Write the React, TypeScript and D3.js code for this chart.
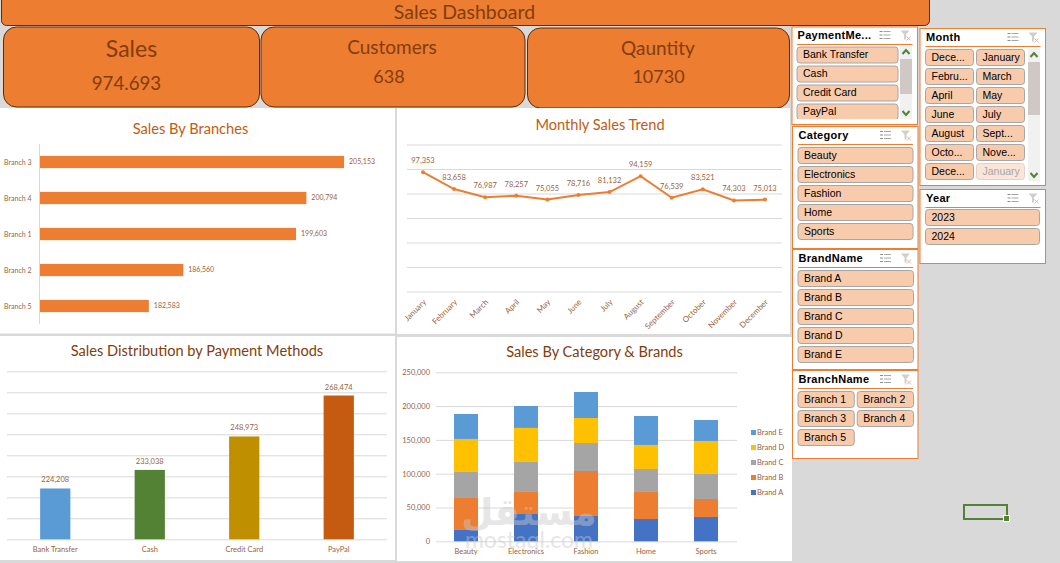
import * as d3 from "d3";
import React, { useEffect, useRef } from "react";

const branches = ["Branch 3", "Branch 4", "Branch 1", "Branch 2", "Branch 5"];
const branchSales = [205153, 200794, 199603, 186560, 182583];

const months = ["January", "February", "March", "April", "May", "June", "July", "August", "September", "October", "November", "December"];
const monthSales = [97353, 83658, 76987, 78257, 75055, 78716, 81132, 94159, 76539, 83521, 74303, 75013];

const payments = ["Bank Transfer", "Cash", "Credit Card", "PayPal"];
const paymentSales = [224208, 233038, 248973, 268474];
const paymentColors = ["#5B9BD5", "#548235", "#BF8F00", "#C55A11"];

const categories = ["Beauty", "Electronics", "Fashion", "Home", "Sports"];
const brands = ["Brand A", "Brand B", "Brand C", "Brand D", "Brand E"];
const brandColors = ["#4472C4", "#ED7D31", "#A5A5A5", "#FFC000", "#5B9BD5"];
const brandA = [16800, 40400, 37500, 33000, 36000];
const brandB = [47300, 32600, 66500, 40000, 26600];
const brandC = [38500, 44400, 41400, 34000, 37000];
const brandD = [48800, 50300, 37000, 35500, 48800];
const brandE = [37000, 32500, 38500, 42900, 31100];

const kpiLabels = ["Sales", "Customers", "Qauntity"];
const kpiValues = ["974.693", "638", "10730"];

const paymentItems = ["Bank Transfer", "Cash", "Credit Card", "PayPal"];
const monthItems = ["Dece...", "January", "Febru...", "March", "April", "May", "June", "July", "August", "Sept...", "Octo...", "Nove...", "Dece...", "January"];
const yearItems = ["2023", "2024"];
const branchItems = ["Branch 1", "Branch 2", "Branch 3", "Branch 4", "Branch 5"];

const FONT = "Lato, 'Open Sans', sans-serif";
const SLICER_FONT = "'Liberation Sans', Arial, sans-serif";
const ORANGE = "#ED7D31";
const BROWN = "#843C0C";
const LABEL = "#9A5F3C";
const GRID = "#D9D9D9";
const fmt = d3.format(",");

type Sel = d3.Selection<any, any, any, any>;

const panel = (svg: Sel, x: number, y: number, w: number, h: number) =>
  svg.append("rect").attr("x", x).attr("y", y).attr("width", w).attr("height", h).attr("fill", "#fff");

const title = (svg: Sel, text: string, x: number, y: number, color: string) =>
  svg.append("text").attr("x", x).attr("y", y).attr("text-anchor", "middle")
    .attr("font-size", 14.6).attr("fill", color).text(text);

const cleanAxis = (g: Sel) => {
  g.select(".domain").remove();
  g.selectAll(".tick text").attr("fill", LABEL).attr("font-family", FONT);
};

const grid = (g: Sel, y: d3.ScaleLinear<number, number>, x0: number, x1: number, step: number) => {
  const ticks = d3.range(y.domain()[0], y.domain()[1] + 1, step);
  g.append("g").attr("transform", `translate(${x0},0)`)
    .call(d3.axisRight(y).tickValues(ticks).tickSize(x1 - x0).tickFormat(() => ""))
    .call((a: Sel) => {
      a.select(".domain").remove();
      a.selectAll("line").attr("stroke", GRID);
    });
};

const drawHeader = (svg: Sel) => {
  svg.append("rect").attr("x", 1.5).attr("y", -5).attr("width", 928).attr("height", 30.5).attr("rx", 5)
    .attr("fill", ORANGE).attr("stroke", "#5E2C0A");
  svg.append("text").attr("x", 464.5).attr("y", 19).attr("text-anchor", "middle")
    .attr("font-size", 19.5).attr("fill", BROWN).text("Sales Dashboard");

  const boxes = [[3.5, 256], [261, 264], [527.5, 262]];
  const labelPos = [[131.5, 57, 23], [392, 54, 19], [658, 55, 19]];
  const valuePos = [[126.5, 90, 18.7], [389, 83, 18], [658.5, 83, 18]];
  boxes.forEach(([x, w], i) => {
    svg.append("rect").attr("x", x).attr("y", i === 2 ? 28 : 27).attr("width", w).attr("height", 80).attr("rx", 13)
      .attr("fill", ORANGE).attr("stroke", "#5E2C0A");
    svg.append("text").attr("x", labelPos[i][0]).attr("y", labelPos[i][1]).attr("text-anchor", "middle")
      .attr("font-size", labelPos[i][2]).attr("fill", BROWN).text(kpiLabels[i]);
    svg.append("text").attr("x", valuePos[i][0]).attr("y", valuePos[i][1]).attr("text-anchor", "middle")
      .attr("font-size", valuePos[i][2]).attr("fill", BROWN).text(kpiValues[i]);
  });
};

const drawBranches = (svg: Sel) => {
  panel(svg, 0, 108, 395, 226);
  svg.append("line").attr("x1", 0).attr("x2", 395).attr("y1", 334).attr("y2", 334).attr("stroke", GRID);
  title(svg, "Sales By Branches", 190.5, 134, "#C55A11");
  const x = d3.scaleLinear().domain([170000, 210000]).range([40, 386]);
  const y = d3.scaleBand().domain(branches).range([144, 324]).paddingInner(0.66).paddingOuter(0.33);
  const g = svg.append("g");
  g.append("g").attr("transform", "translate(39.5,0.5)")
    .call(d3.axisLeft(y).tickSize(0).tickPadding(8))
    .call(cleanAxis)
    .call((a: Sel) => a.selectAll("text").attr("font-size", 7));
  g.append("line").attr("x1", 39.5).attr("x2", 39.5).attr("y1", 144).attr("y2", 324).attr("stroke", GRID);
  g.selectAll(".bar").data(branches).enter().append("rect").attr("class", "bar")
    .attr("x", x(170000)).attr("y", (d: string) => y(d) as number)
    .attr("width", (_: string, i: number) => x(branchSales[i]) - x(170000))
    .attr("height", y.bandwidth()).attr("fill", ORANGE);
  g.selectAll(".lbl").data(branches).enter().append("text").attr("class", "lbl")
    .attr("x", (_: string, i: number) => x(branchSales[i]) + 5)
    .attr("y", (d: string) => (y(d) as number) + y.bandwidth() / 2 + 1.5)
    .attr("font-size", 7).attr("fill", LABEL)
    .text((_: string, i: number) => fmt(branchSales[i]));
};

const drawMonthly = (svg: Sel) => {
  panel(svg, 397, 108, 393, 226);
  title(svg, "Monthly Sales Trend", 600, 130, "#C55A11");
  const x = d3.scalePoint().domain(months).range([423, 765]);
  const y = d3.scaleLinear().domain([0, 120000]).range([291.5, 144.5]);
  const g = svg.append("g");
  grid(g, y, 407, 782, 20000);
  const line = d3.line<string>().x((d) => x(d) as number).y((_, i) => y(monthSales[i]));
  g.append("path").attr("d", line(months)).attr("fill", "none").attr("stroke", ORANGE).attr("stroke-width", 2);
  g.selectAll(".dot").data(months).enter().append("circle").attr("class", "dot")
    .attr("cx", (d: string) => x(d) as number).attr("cy", (_: string, i: number) => y(monthSales[i]))
    .attr("r", 2).attr("fill", ORANGE);
  g.selectAll(".lbl").data(months).enter().append("text").attr("class", "lbl")
    .attr("x", (d: string) => x(d) as number).attr("y", (_: string, i: number) => y(monthSales[i]) - 9)
    .attr("text-anchor", "middle").attr("font-size", 7.5).attr("fill", LABEL)
    .text((_: string, i: number) => fmt(monthSales[i]));
  g.append("g").attr("transform", "translate(0,291.5)")
    .call(d3.axisBottom(x).tickSize(0))
    .call(cleanAxis)
    .call((a: Sel) => a.selectAll("text").attr("font-size", 8).attr("text-anchor", "end")
      .attr("dy", 0).attr("transform", "translate(1,9) rotate(-45)"));
};

const drawPayments = (svg: Sel) => {
  panel(svg, 0, 336, 395, 224);
  title(svg, "Sales Distribution by Payment Methods", 197, 356, BROWN);
  const x = d3.scaleBand().domain(payments).range([8, 386]).paddingInner(0.68).paddingOuter(0.34);
  const y = d3.scaleLinear().domain([200000, 280000]).range([539.3, 371.3]);
  const g = svg.append("g");
  grid(g, y, 7, 387, 10000);
  g.selectAll(".bar").data(payments).enter().append("rect").attr("class", "bar")
    .attr("x", (d: string) => x(d) as number).attr("y", (_: string, i: number) => y(paymentSales[i]))
    .attr("width", x.bandwidth())
    .attr("height", (_: string, i: number) => 539.3 - y(paymentSales[i]))
    .attr("fill", (_: string, i: number) => paymentColors[i]);
  g.selectAll(".lbl").data(payments).enter().append("text").attr("class", "lbl")
    .attr("x", (d: string) => (x(d) as number) + x.bandwidth() / 2)
    .attr("y", (_: string, i: number) => y(paymentSales[i]) - 6)
    .attr("text-anchor", "middle").attr("font-size", 7.5).attr("fill", LABEL)
    .text((_: string, i: number) => fmt(paymentSales[i]));
  g.append("g").attr("transform", "translate(0,539.3)")
    .call(d3.axisBottom(x).tickSize(0).tickPadding(7))
    .call(cleanAxis)
    .call((a: Sel) => a.selectAll("text").attr("font-size", 7.5));
};

const drawStacked = (svg: Sel) => {
  panel(svg, 397, 337, 395, 224);
  title(svg, "Sales By Category & Brands", 594.5, 357, BROWN);
  const x = d3.scaleBand().domain(categories).range([436, 736]).paddingInner(0.6).paddingOuter(0.3);
  const y = d3.scaleLinear().domain([0, 250000]).range([541.3, 372.3]);
  const g = svg.append("g");
  grid(g, y, 436, 737, 50000);
  const table = categories.map((c, i) => ({
    category: c,
    "Brand A": brandA[i],
    "Brand B": brandB[i],
    "Brand C": brandC[i],
    "Brand D": brandD[i],
    "Brand E": brandE[i],
  }));
  const stack = d3.stack<any>().keys(brands)(table);
  g.selectAll(".series").data(stack).enter().append("g").attr("class", "series")
    .attr("fill", (_: any, i: number) => brandColors[i])
    .selectAll("rect").data((d: any) => d).enter().append("rect")
    .attr("x", (d: any) => x(d.data.category) as number)
    .attr("y", (d: any) => y(d[1]))
    .attr("width", x.bandwidth())
    .attr("height", (d: any) => y(d[0]) - y(d[1]));
  g.append("g").attr("transform", "translate(436,0)")
    .call(d3.axisLeft(y).tickValues(d3.range(0, 250001, 50000)).tickSize(0).tickPadding(6).tickFormat((d) => fmt(d as number)))
    .call(cleanAxis)
    .call((a: Sel) => a.selectAll("text").attr("font-size", 7.5));
  g.append("g").attr("transform", "translate(0,541.3)")
    .call(d3.axisBottom(x).tickSize(0).tickPadding(7))
    .call(cleanAxis)
    .call((a: Sel) => a.selectAll("text").attr("font-size", 7.5));
  const ly = d3.scalePoint().domain([...brands].reverse()).range([432.5, 492.5]);
  brands.forEach((b, i) => {
    g.append("rect").attr("x", 751).attr("y", (ly(b) as number) - 2.5).attr("width", 5).attr("height", 5).attr("fill", brandColors[i]);
    g.append("text").attr("x", 757).attr("y", (ly(b) as number) + 2.5).attr("font-size", 7.5).attr("fill", LABEL).text(b);
  });
  // site watermark sitting over the chart in the screenshot
  svg.append("text").attr("x", 529).attr("y", 525).attr("text-anchor", "middle").attr("font-family", "'DejaVu Sans', sans-serif")
    .attr("font-size", 37).attr("font-weight", "bold").attr("fill", "#C8C8C8").attr("opacity", 0.45).text("مستقل");
  svg.append("text").attr("x", 529).attr("y", 548).attr("text-anchor", "middle")
    .attr("font-size", 23).attr("fill", "#C8C8C8").attr("opacity", 0.45).text("mostaql.com");
};

const slicerIcons = (g: Sel, x: number, y: number) => {
  const list = g.append("g").attr("stroke", "#A6A6A6").attr("stroke-width", 1);
  [0, 3.5, 7].forEach((d) => {
    list.append("line").attr("x1", x).attr("x2", x + 3).attr("y1", y + d).attr("y2", y + d).attr("stroke", "#8C8C8C");
    list.append("line").attr("x1", x + 4).attr("x2", x + 11).attr("y1", y + d).attr("y2", y + d);
  });
  g.append("path").attr("d", `M${x + 21},${y - 1}h9l-3.5,4v5h-2v-5z`).attr("fill", "#CFCFCF");
  g.append("path").attr("d", `M${x + 27},${y + 5}l4,4m0,-4l-4,4`).attr("stroke", "#DDB8A8").attr("fill", "none");
};

const drawSlicer = (svg: Sel, name: string, items: string[], px: number, py: number, pw: number, ph: number,
  x0: number, x1: number, lineY: number, btnY: number, cols: number, clipY?: number, scroll?: number[]) => {
  const g = svg.append("g");
  panel(g, px, py, pw, ph).attr("stroke", ORANGE).attr("stroke-width", 1);
  g.append("text").attr("x", x0 + 0.5).attr("y", lineY - 6).attr("font-family", SLICER_FONT)
    .attr("font-size", 11).attr("font-weight", "bold").attr("letter-spacing", 0.3).attr("fill", "#000").text(name);
  g.append("line").attr("x1", x0).attr("x2", px + pw - 5).attr("y1", lineY).attr("y2", lineY).attr("stroke", ORANGE);
  slicerIcons(g, px + pw - 38, lineY - 13);
  const gap = 3;
  const bw = (x1 - x0 - gap * (cols - 1)) / cols;
  const clipId = `clip-${name.replace(/\W/g, "")}`;
  if (clipY) {
    g.append("clipPath").attr("id", clipId).append("rect").attr("x", px).attr("y", py).attr("width", pw).attr("height", clipY - py);
  }
  const body = g.append("g").attr("clip-path", clipY ? `url(#${clipId})` : null);
  items.forEach((item, i) => {
    const bx = x0 + (i % cols) * (bw + gap);
    const by = btnY + Math.floor(i / cols) * 19;
    const off = name === "Month" && i === items.length - 1;
    body.append("rect").attr("x", bx).attr("y", by).attr("width", bw).attr("height", 16).attr("rx", 3)
      .attr("fill", off ? "#FBE5D6" : "#F8CBAD").attr("stroke", off ? "#DDD3CC" : "#A6A6A6").attr("stroke-width", 1);
    body.append("text").attr("x", bx + 6).attr("y", by + 11.3).attr("font-family", SLICER_FONT)
      .attr("font-size", 10.5).attr("fill", off ? "#A6A6A6" : "#000").text(item);
  });
  if (scroll) {
    const [sx, sy0, sy1, t0, t1] = scroll;
    g.append("rect").attr("x", sx).attr("y", sy0).attr("width", 12).attr("height", sy1 - sy0).attr("fill", "#F1F1F1");
    g.append("rect").attr("x", sx).attr("y", t0).attr("width", 12).attr("height", t1 - t0).attr("fill", "#CFC8C4");
    g.append("path").attr("d", `M${sx + 2.5},${sy0 + 8}l3.5,-4l3.5,4`).attr("fill", "none").attr("stroke", "#548235").attr("stroke-width", 2);
    g.append("path").attr("d", `M${sx + 2.5},${sy1 - 8}l3.5,4l3.5,-4`).attr("fill", "none").attr("stroke", "#548235").attr("stroke-width", 2);
  }
};

const App = () => {
  const ref = useRef<SVGSVGElement>(null);
  useEffect(() => {
    const svg = d3.select(ref.current);
    svg.selectAll("*").remove();
    svg.attr("font-family", FONT);
    svg.append("rect").attr("width", 1060).attr("height", 563).attr("fill", "#D9D9D9");
    drawHeader(svg);
    drawBranches(svg);
    drawMonthly(svg);
    drawPayments(svg);
    drawStacked(svg);
    drawSlicer(svg, "PaymentMe...", paymentItems, 792, 27, 125.5, 97.5, 797, 898, 44.5, 47, 1, 119, [900, 46, 119, 59, 94]);
    drawSlicer(svg, "Month", monthItems, 920, 28.5, 125.5, 157, 925.5, 1024.5, 46.5, 49.5, 2, undefined, [1028, 49, 181, 62, 115]);
    drawSlicer(svg, "Year", yearItems, 920, 189.5, 125.5, 74, 925.5, 1039.5, 207.5, 209.5, 1);
    drawSlicer(svg, "Category", categories, 792.5, 126.5, 125.5, 122, 798, 913, 144.5, 147.5, 1);
    drawSlicer(svg, "BrandName", brands, 792.5, 249.5, 125.5, 120, 798, 913.5, 267.5, 270.5, 1);
    drawSlicer(svg, "BranchName", branchItems, 792.5, 370.5, 125.5, 88, 798, 913.5, 388.5, 391.5, 2);
    // selected cell
    svg.append("rect").attr("x", 964).attr("y", 505).attr("width", 43).attr("height", 14).attr("fill", "none").attr("stroke", "#548235").attr("stroke-width", 2);
    svg.append("rect").attr("x", 1003.5).attr("y", 515.5).attr("width", 6).attr("height", 6).attr("fill", "#548235").attr("stroke", "#fff");
  }, []);

  return <svg ref={ref} width={1060} height={563} style={{ position: "absolute", left: 0, top: 0 }} />;
};

export default App;
